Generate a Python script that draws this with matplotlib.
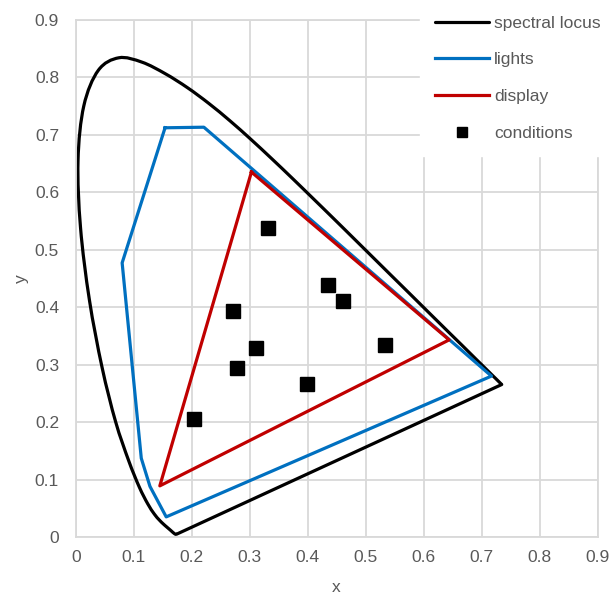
import matplotlib.pyplot as plt
from matplotlib.path import Path
from matplotlib.patches import PathPatch

plt.rcParams["font.family"] = ["Liberation Sans", "DejaVu Sans"]

# CIE 1931 spectral locus, 380-700 nm
locus_x = [0.1741, 0.1740, 0.1738, 0.1736, 0.1733, 0.1730, 0.1726, 0.1721,
           0.1714, 0.1703, 0.1689, 0.1669, 0.1644, 0.1611, 0.1566, 0.1510,
           0.1440, 0.1355, 0.1241, 0.1096, 0.0913, 0.0687, 0.0454, 0.0235,
           0.0082, 0.0039, 0.0139, 0.0389, 0.0743, 0.1142, 0.1547, 0.1929,
           0.2296, 0.2658, 0.3016, 0.3373, 0.3731, 0.4087, 0.4441, 0.4788,
           0.5125, 0.5448, 0.5752, 0.6029, 0.6270, 0.6482, 0.6658, 0.6801,
           0.6915, 0.7006, 0.7079, 0.7140, 0.7190, 0.7230, 0.7260, 0.7283,
           0.7300, 0.7311, 0.7320, 0.7327, 0.7334, 0.7347]
locus_y = [0.0050, 0.0050, 0.0049, 0.0049, 0.0048, 0.0048, 0.0048, 0.0048,
           0.0051, 0.0058, 0.0069, 0.0086, 0.0109, 0.0138, 0.0177, 0.0227,
           0.0297, 0.0399, 0.0578, 0.0868, 0.1327, 0.2007, 0.2950, 0.4127,
           0.5384, 0.6548, 0.7502, 0.8120, 0.8338, 0.8262, 0.8059, 0.7816,
           0.7543, 0.7243, 0.6923, 0.6589, 0.6245, 0.5896, 0.5547, 0.5202,
           0.4866, 0.4544, 0.4242, 0.3965, 0.3725, 0.3514, 0.3340, 0.3197,
           0.3083, 0.2993, 0.2920, 0.2859, 0.2809, 0.2770, 0.2740, 0.2717,
           0.2700, 0.2689, 0.2680, 0.2673, 0.2666, 0.2653]

# lights gamut
lights_x = [0.154, 0.221, 0.717, 0.156, 0.128, 0.113, 0.080, 0.154]
lights_y = [0.712, 0.713, 0.280, 0.035, 0.088, 0.137, 0.477, 0.712]

# display primaries
display_x = [0.303, 0.644, 0.145, 0.303]
display_y = [0.635, 0.343, 0.089, 0.635]

# test conditions
cond_x = [0.332, 0.435, 0.461, 0.271, 0.533, 0.311, 0.278, 0.399, 0.204]
cond_y = [0.538, 0.438, 0.411, 0.393, 0.334, 0.329, 0.294, 0.266, 0.205]

ticks = [0, 0.1, 0.2, 0.3, 0.4, 0.5, 0.6, 0.7, 0.8, 0.9]
tick_labels = ["0", "0.1", "0.2", "0.3", "0.4", "0.5", "0.6", "0.7", "0.8", "0.9"]

grey = "#595959"


def smooth_path(xs, ys):
    # smoothed line like a spreadsheet chart: cubic bezier through the points
    pts = list(zip(xs, ys))
    n = len(pts)
    verts = [pts[0]]
    codes = [Path.MOVETO]
    for i in range(n - 1):
        p0 = pts[max(i - 1, 0)]
        p1 = pts[i]
        p2 = pts[i + 1]
        p3 = pts[min(i + 2, n - 1)]
        c1 = (p1[0] + (p2[0] - p0[0]) / 6, p1[1] + (p2[1] - p0[1]) / 6)
        c2 = (p2[0] - (p3[0] - p1[0]) / 6, p2[1] - (p3[1] - p1[1]) / 6)
        verts += [c1, c2, p2]
        codes += [Path.CURVE4] * 3
    return Path(verts, codes)


fig = plt.figure(figsize=(6.11, 5.98), dpi=100)
ax = fig.add_axes([0.124, 0.102, 0.854, 0.865])

# closing (purple) line carries the legend entry, the locus itself is a smooth path
ax.plot([locus_x[-1], locus_x[0]], [locus_y[-1], locus_y[0]], color="black",
        linewidth=2.3, solid_capstyle="round", label="spectral locus")
ax.add_patch(PathPatch(smooth_path(locus_x, locus_y), fill=False,
                       edgecolor="black", linewidth=2.3, joinstyle="round"))
ax.plot(lights_x, lights_y, color="#0070C0", linewidth=2.3, label="lights")
ax.plot(display_x, display_y, color="#C00000", linewidth=2.3, label="display")
ax.plot(cond_x, cond_y, linestyle="none", marker="s", markersize=9.8,
        color="black", label="conditions")

ax.set_xlim(0, 0.9)
ax.set_ylim(0, 0.9)
ax.set_xticks(ticks)
ax.set_yticks(ticks)
ax.set_xticklabels(tick_labels)
ax.set_yticklabels(tick_labels)
ax.tick_params(length=0, labelsize=12.5, labelcolor=grey)
ax.tick_params(axis="x", pad=9)
ax.tick_params(axis="y", pad=12)
ax.grid(True, color="#d9d9d9", linewidth=1.3)
ax.set_axisbelow(True)
for s in ax.spines.values():
    s.set_color("#d9d9d9")
    s.set_linewidth(1.3)

ax.set_xlabel("x", fontsize=12.5, color=grey, labelpad=11)
ax.set_ylabel("y", fontsize=12.5, color=grey, labelpad=4)

leg = ax.legend(loc="upper right", bbox_to_anchor=(1.009, 1.0),
                bbox_transform=fig.transFigure, fontsize=12.5,
                frameon=True, fancybox=False, framealpha=1,
                handlelength=3.1, handletextpad=0.3, labelspacing=1.24,
                borderpad=0.9, borderaxespad=0, markerscale=0.78)
leg.get_frame().set_edgecolor("white")
for t in leg.get_texts():
    t.set_color(grey)

fig.savefig("out.png", dpi=100)
